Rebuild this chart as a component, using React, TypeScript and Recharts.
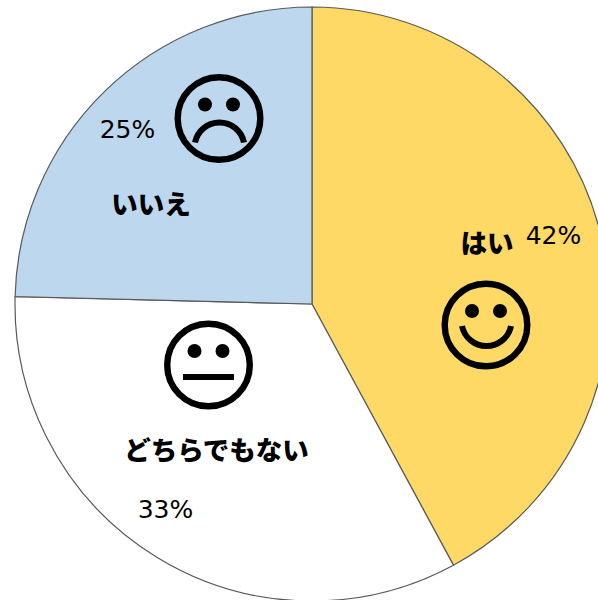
import React from 'react';
import { PieChart, Pie, Cell } from 'recharts';

const categories = ['はい', 'どちらでもない', 'いいえ'];
const shares = [42.1, 33.3, 24.6];
const percentLabels = ['42%', '33%', '25%'];
const colors = ['#FFD966', '#FFFFFF', '#BDD7EE'];

const chartData = categories.map((name, i) => ({ name, value: shares[i] }));

const jpFont = '"Noto Sans CJK JP", sans-serif';
const numFont = '"DejaVu Sans", sans-serif';

// hand placed annotations on each slice: name and percent (x, baseline y), face centre, mouth
const nameAt = [[487, 252.5], [216.5, 459.5], [151, 213.5]];
const percentAt = [[553.5, 244], [165.5, 518], [127.5, 138]];
const faceAt = [[486, 325], [208.5, 365], [219, 118.5]];
const mouths = ['M-24 1 A 25 25 0 0 0 25 1', 'M-25.5 12 L25.5 12', 'M-24 24 A 25 25 0 0 1 25 24'];

const renderSliceLabel = ({ index }: { index: number }) => (
  <g key={categories[index]}>
    <g transform={`translate(${faceAt[index][0]} ${faceAt[index][1]})`}>
      <circle r={41.3} fill="none" stroke="#000" strokeWidth={6.4} />
      <circle cx={-14} cy={-14} r={7} fill="#000" />
      <circle cx={14} cy={-14} r={7} fill="#000" />
      <path d={mouths[index]} fill="none" stroke="#000" strokeWidth={6} />
    </g>
    <text x={nameAt[index][0]} y={nameAt[index][1]} textAnchor="middle" fontFamily={jpFont} fontWeight={900} fontSize={26.5} fill="#000">
      {categories[index]}
    </text>
    <text x={percentAt[index][0]} y={percentAt[index][1]} textAnchor="middle" fontFamily={numFont} fontSize={25} fill="#000">
      {percentLabels[index]}
    </text>
  </g>
);

const App: React.FC = () => {
  return (
    <div style={{ position: 'absolute', left: 0, top: 0, width: 598, height: 600, overflow: 'hidden' }}>
      <PieChart width={598} height={600} margin={{ top: 0, right: 0, bottom: 0, left: 0 }}>
        <Pie
          data={chartData}
          dataKey="value"
          cx={312}
          cy={304}
          outerRadius={297}
          startAngle={90}
          endAngle={-270}
          stroke="#595959"
          strokeWidth={1.2}
          label={renderSliceLabel}
          labelLine={false}
          isAnimationActive={false}
        >
          {chartData.map((d, i) => (
            <Cell key={d.name} fill={colors[i]} />
          ))}
        </Pie>
      </PieChart>
    </div>
  );
};

export default App;
